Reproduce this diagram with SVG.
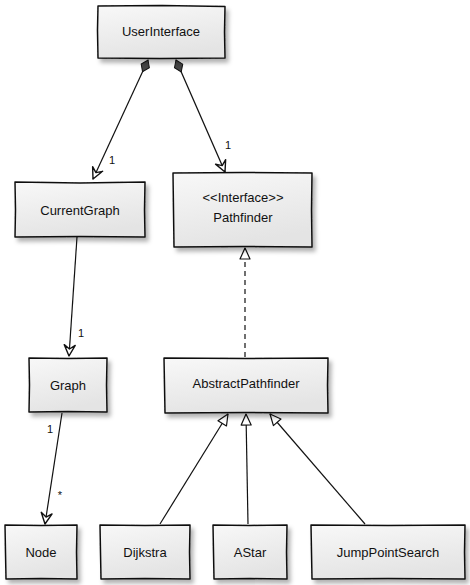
<svg xmlns="http://www.w3.org/2000/svg" width="470" height="585" viewBox="0 0 470 585">
<style>
.box{fill:url(#g);stroke:#111;stroke-width:1.5;stroke-linejoin:round;filter:url(#sh)}
.t{font-family:"Liberation Sans",Arial,sans-serif;font-size:13px;fill:#111;text-anchor:middle;dominant-baseline:central}
.lbl{font-family:"Liberation Sans",Arial,sans-serif;font-size:11px;fill:#111;text-anchor:middle}
.ln{fill:none;stroke:#111;stroke-width:1.2}
.dash{stroke-dasharray:5,4}
</style>
<defs>
<linearGradient id="g" x1="0" y1="0" x2="0.3" y2="1">
<stop offset="0" stop-color="#f8f8f8"/>
<stop offset="1" stop-color="#e4e4e4"/>
</linearGradient>
<filter id="sh" x="-10%" y="-10%" width="130%" height="140%">
<feDropShadow dx="3" dy="4" stdDeviation="2" flood-color="#000" flood-opacity="0.3"/>
</filter>
<marker id="dia" markerUnits="userSpaceOnUse" markerWidth="18" markerHeight="12" refX="0" refY="0" viewBox="-1 -6 18 12" orient="auto">
<path d="M0,0 L6.5,-4.5 L13,0 L6.5,4.5 Z" fill="#444" stroke="#111" stroke-width="1"/>
</marker>
<marker id="arr" markerUnits="userSpaceOnUse" markerWidth="16" markerHeight="14" refX="0" refY="0" viewBox="-13 -7 16 14" orient="auto">
<path d="M-11,-5.5 L0,0 L-11,5.5 L-7,0 Z" fill="#fff" stroke="#111" stroke-width="1.4" stroke-linejoin="round"/>
</marker>
<marker id="tri" markerUnits="userSpaceOnUse" markerWidth="16" markerHeight="14" refX="0" refY="0" viewBox="-13 -7 16 14" orient="auto">
<path d="M0,0 L-11,-5 L-11,5 Z" fill="#fff" stroke="#111" stroke-width="1.2" stroke-linejoin="round"/>
</marker>
</defs>

<g id="connectors">
<path class="ln" d="M148,60 L93,179" marker-start="url(#dia)" marker-end="url(#arr)"/>
<text class="lbl" x="112" y="164">1</text>
<path class="ln" d="M176,60 L225,172" marker-start="url(#dia)" marker-end="url(#arr)"/>
<text class="lbl" x="228" y="149">1</text>
<path class="ln" d="M77,237 L69,356" marker-end="url(#arr)"/>
<text class="lbl" x="81" y="337">1</text>
<path class="ln" d="M62,413 L45,524" marker-end="url(#arr)"/>
<text class="lbl" x="50" y="433">1</text>
<text class="lbl" x="60" y="499">*</text>
<path class="ln dash" d="M245,357 L245,248" marker-end="url(#tri)"/>
<path class="ln" d="M160,524 L228,414" marker-end="url(#tri)"/>
<path class="ln" d="M248,524 L246,414" marker-end="url(#tri)"/>
<path class="ln" d="M365,524 L270,414" marker-end="url(#tri)"/>
</g>

<g id="UserInterface">
<path class="box" d="M98,6 L162,5.5 L225,6.5 L224.5,32 L225,58 L160,58.5 L98,58 L97.5,30 Z"/>
<text class="t" x="161" y="31">UserInterface</text>
</g>
<g id="CurrentGraph">
<path class="box" d="M15,182 L80,183 L145,182 L144.5,210 L145,237 L80,236.5 L15,237 L15.5,210 Z"/>
<text class="t" x="80" y="210">CurrentGraph</text>
</g>
<g id="Pathfinder">
<path class="box" d="M173,173 L243,172.5 L312,173 L311.5,210 L312,247 L243,246.5 L174,247 L173.5,210 Z"/>
<text class="t" x="243" y="197">&lt;&lt;Interface&gt;&gt;</text>
<text class="t" x="243" y="217">Pathfinder</text>
</g>
<g id="Graph">
<path class="box" d="M29,358 L68,358.5 L107,358 L106.5,385 L107,412 L68,411.5 L29,412 L29.5,385 Z"/>
<text class="t" x="68" y="385">Graph</text>
</g>
<g id="AbstractPathfinder">
<path class="box" d="M164,358 L246,358.5 L328,358 L327.5,385 L328,413 L246,412.5 L165,413 L164.5,385 Z"/>
<text class="t" x="246" y="383">AbstractPathfinder</text>
</g>
<g id="Node">
<path class="box" d="M5,525 L41,525.5 L77,525 L76.5,552 L77,579 L41,578.5 L6,579 L5.5,552 Z"/>
<text class="t" x="41" y="552">Node</text>
</g>
<g id="Dijkstra">
<path class="box" d="M100,525 L145,525.5 L190,525 L189.5,552 L190,579 L145,578.5 L101,579 L100.5,552 Z"/>
<text class="t" x="145" y="552">Dijkstra</text>
</g>
<g id="AStar">
<path class="box" d="M213,525 L250,525.5 L287,525 L286.5,552 L287,579 L250,578.5 L214,579 L213.5,552 Z"/>
<text class="t" x="250" y="552">AStar</text>
</g>
<g id="JumpPointSearch">
<path class="box" d="M311,525 L388,525.5 L465,525 L464.5,552 L465,579 L388,578.5 L312,579 L311.5,552 Z"/>
<text class="t" x="388" y="552">JumpPointSearch</text>
</g>
</svg>
